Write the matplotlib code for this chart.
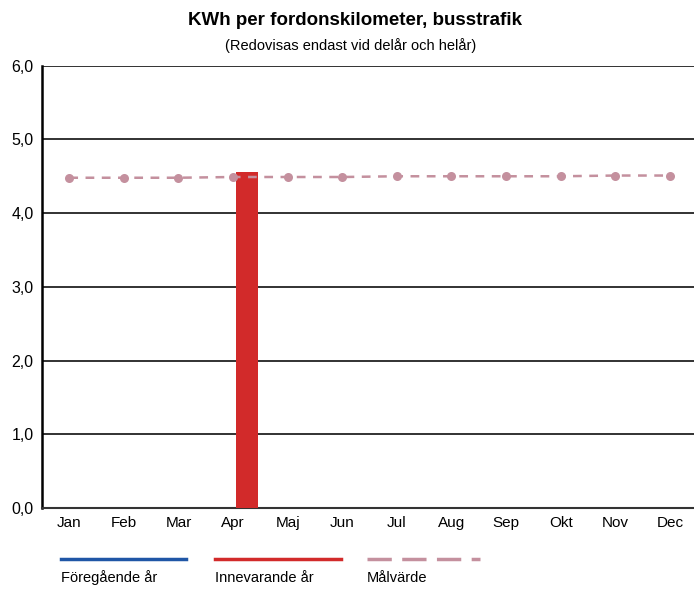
import numpy as np
import matplotlib.pyplot as plt
from matplotlib.lines import Line2D

plt.rcParams['font.family'] = ['Liberation Sans', 'DejaVu Sans']

months = ['Jan', 'Feb', 'Mar', 'Apr', 'Maj', 'Jun', 'Jul', 'Aug', 'Sep', 'Okt', 'Nov', 'Dec']
prev_year = [np.nan] * 12
this_year = [np.nan, np.nan, np.nan, 4.56, np.nan, np.nan, np.nan, np.nan, np.nan, np.nan, np.nan, np.nan]
target = [4.48, 4.48, 4.48, 4.49, 4.49, 4.49, 4.50, 4.50, 4.50, 4.50, 4.51, 4.51]
yticks = [0, 1, 2, 3, 4, 5, 6]

blue = '#1f56a6'
red = '#d22a2a'
mauve = '#c4909e'

fig = plt.figure(figsize=(6.94, 5.92), dpi=100)
ax = fig.add_axes([0.0605, 0.142, 0.944, 0.747])

x = np.arange(len(months))
w = 0.4
ax.bar(x - 0.26, prev_year, w, color=blue)
ax.bar(x + 0.26, this_year, w, color=red, zorder=3)
ax.plot(x, target, color=mauve, ls=(0, (3.5, 3)), lw=1.8, marker='o', ms=6.5,
        markeredgewidth=0, zorder=4)

ax.set_xlim(-0.5, 11.5)
ax.set_ylim(0, 6)
ax.set_yticks(yticks)
ax.set_yticklabels([f'{v:.1f}'.replace('.', ',') for v in yticks], fontsize=11.5)
ax.set_xticks(x)
ax.set_xticklabels(months, fontsize=11)
ax.tick_params(length=0, pad=6)
ax.yaxis.grid(True, color='#222222', lw=1.3)
ax.set_axisbelow(True)
for s in ['top', 'right']:
    ax.spines[s].set_visible(False)
ax.spines['left'].set_linewidth(1.8)
ax.spines['bottom'].set_linewidth(1.5)
ax.spines['bottom'].set_color('#333333')

fig.text(0.512, 0.966, 'KWh per fordonskilometer, busstrafik', ha='center', va='center',
         fontsize=13.5, fontweight='bold')
fig.text(0.505, 0.923, '(Redovisas endast vid delår och helår)', ha='center', va='center',
         fontsize=10.5)

# legend below the chart
H = 592.0
W = 694.0
legend = [('Föregående år', blue, '-', 61, 186),
          ('Innevarande år', red, '-', 215, 341),
          ('Målvärde', mauve, (0, (7, 3)), 367, 480)]
for label, col, ls, x0, x1 in legend:
    fig.add_artist(Line2D([x0 / W, x1 / W], [1 - 559 / H, 1 - 559 / H], color=col,
                          lw=2.5, ls=ls, transform=fig.transFigure))
    fig.text(x0 / W, 1 - 578 / H, label, ha='left', va='center', fontsize=10.5)

fig.savefig('out.png', dpi=100)
